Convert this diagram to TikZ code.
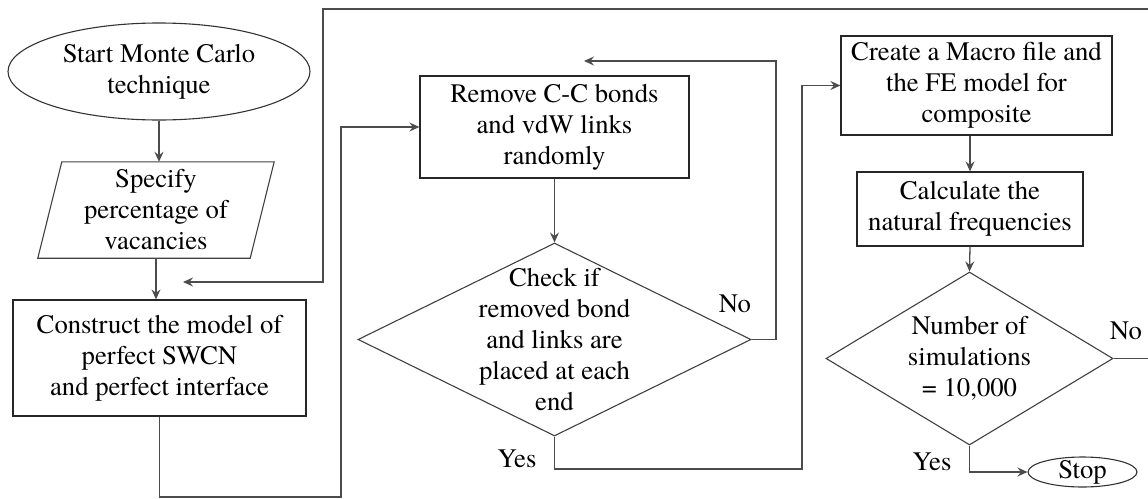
\documentclass[tikz,border=0pt]{standalone}
\usepackage{fontspec}
\setmainfont{texgyretermes}[Extension=.otf,UprightFont=*-regular,BoldFont=*-bold,ItalicFont=*-italic,BoldItalicFont=*-bolditalic]
\usetikzlibrary{shapes.geometric,arrows.meta,calc}
\begin{document}
\begin{tikzpicture}[x=1pt,y=-1pt,
  font=\fontsize{26.7}{31}\selectfont,
  box/.style={draw=black!85,line width=1.2pt,inner sep=0pt,align=center},
  term/.style={ellipse,draw=black!80,line width=1.1pt,inner sep=0pt,align=center},
  decision/.style={diamond,draw=black!75,line width=1.1pt,inner sep=0pt},
  txt/.style={inner sep=0pt,align=center},
  shapeline/.style={draw=black!75,line width=1.1pt},
  flow/.style={draw=black!70,line width=1.3pt,-{Stealth[length=10pt,width=9pt,inset=3.5pt]}},
  lbl/.style={inner sep=0pt}]
\clip (0,0) rectangle (1148,498);

% ---- left column ----
\node[term,minimum width=302,minimum height=97] (start) at (159,71.5) {Start Monte Carlo\\technique};
\node[txt,minimum width=212,minimum height=96] (spec) at (156,210) {Specify\\percentage of\\vacancies};
\draw[shapeline] ($(spec.north west)+(12,0)$) -- ($(spec.north east)+(12,0)$)
  -- ($(spec.south east)+(-12,0)$) -- ($(spec.south west)+(-12,0)$) -- cycle;
\node[box,minimum width=293,minimum height=116] (cons) at (159.5,358) {Construct the model of\\perfect SWCN\\and perfect interface};

% ---- middle column ----
\node[box,minimum width=269,minimum height=102] (rem) at (554.5,127) {Remove C-C bonds\\and vdW links\\randomly};
\node[decision,minimum width=393,minimum height=193] (chk) at (554.5,339.5) {};
\node[txt] (chktxt) at (chk) {Check if\\removed bond\\and links are\\placed at each\\end};

% ---- right column ----
\node[box,minimum width=271,minimum height=99] (mac) at (976.5,85.5) {Create a Macro file and\\the FE model for\\composite};
\node[box,minimum width=226,minimum height=74] (calc) at (970,209) {Calculate the\\natural frequencies};
\node[decision,minimum width=287,minimum height=173] (num) at (969.5,358.5) {};
\node[txt] (numtxt) at (num) {Number of\\simulations\\= 10,000};
\node[term,minimum width=109,minimum height=30] (stop) at (1082.5,472) {};
\node[txt] (stoptxt) at (stop) {Stop};

% ---- routing points ----
\coordinate (j1) at (341,497);
\coordinate (j2) at (776,61);
\coordinate (j2end) at (584,61);
\coordinate (j3) at (802,469);
\coordinate (corner) at (1152,9);
\coordinate (drop) at (323,282);
\coordinate (ret) at (183,282);

% ---- connectors ----
\draw[flow] (start.south) -- (start.south |- spec.north);
\draw[flow] (spec.south) -- (spec.south |- cons.north);
\draw[flow] (cons.south) |- (j1) |- (rem.west);
\draw[flow] (rem.south) -- (chk.north);
\draw[flow] (chk.east) -| (j2) -- (j2end);
\draw[flow] (chk.south) |- (j3) |- (mac.west);
\draw[flow] (calc.north |- mac.south) -- (calc.north);
\draw[flow] (calc.south) -- (num.north);
\draw[flow] (num.south) |- (stop.west);
\draw[flow] (num.east) -| (corner) -| (drop) -- (ret);

% ---- branch labels ----
\node[lbl] (no1) at (735,304) {No};
\node[lbl] (yes1) at (517,459) {Yes};
\node[lbl] (yes2) at (932,462) {Yes};
\node[lbl] (no2) at (1126,331) {No};
\end{tikzpicture}
\end{document}
